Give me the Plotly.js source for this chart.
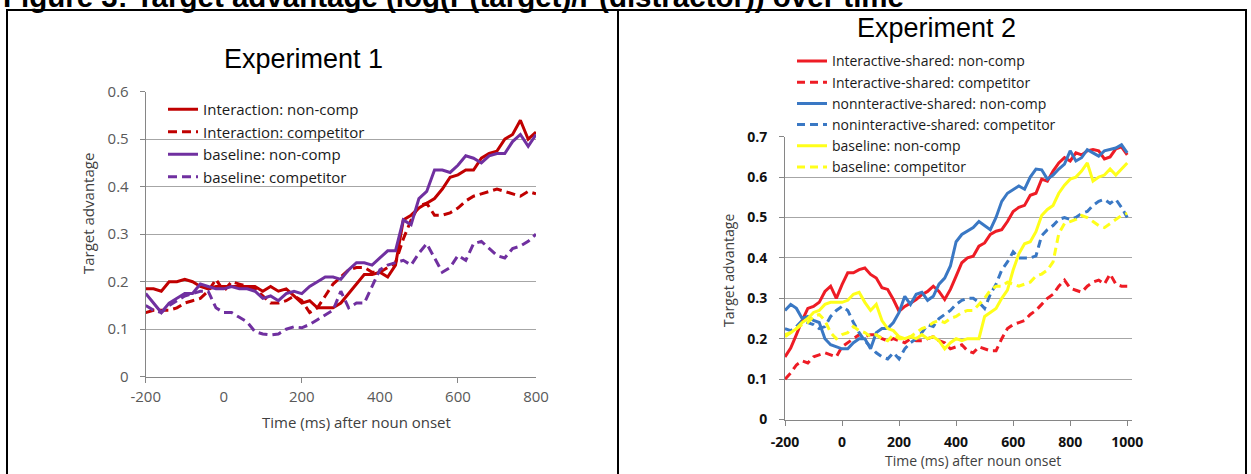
<!DOCTYPE html>
<html><head><meta charset="utf-8">
<script src="https://cdn.plot.ly/plotly-3.0.1.min.js"></script>
<style>html,body{margin:0;padding:0;background:#fff;overflow:hidden}#chart{width:1251px;height:474px}</style>
</head><body><div id="chart"></div>
<script>
// ---------- Experiment 1 data ----------
const time1 = [-200,-180,-160,-140,-120,-100,-80,-60,-40,-20,0,20,40,60,80,100,120,140,160,180,200,220,240,260,280,300,320,340,360,380,400,420,440,460,480,500,520,540,560,580,600,620,640,660,680,700,720,740,760,780,800];
const interactionNonComp = [0.185,0.185,0.18,0.2,0.2,0.205,0.2,0.19,0.185,0.19,0.19,0.19,0.19,0.19,0.19,0.18,0.19,0.18,0.185,0.17,0.155,0.16,0.145,0.145,0.145,0.155,0.175,0.195,0.215,0.215,0.22,0.21,0.235,0.33,0.34,0.355,0.365,0.375,0.395,0.42,0.425,0.435,0.435,0.46,0.47,0.475,0.5,0.51,0.54,0.5,0.515];
const interactionComp = [0.135,0.14,0.14,0.14,0.145,0.155,0.16,0.165,0.18,0.205,0.18,0.2,0.195,0.19,0.185,0.17,0.155,0.155,0.16,0.17,0.16,0.135,0.145,0.17,0.195,0.21,0.225,0.23,0.23,0.22,0.22,0.23,0.24,0.29,0.33,0.36,0.365,0.34,0.34,0.345,0.355,0.37,0.38,0.385,0.39,0.395,0.39,0.385,0.38,0.39,0.385];
const baseline1NonComp = [0.175,0.155,0.135,0.155,0.165,0.175,0.175,0.195,0.19,0.185,0.185,0.19,0.185,0.185,0.18,0.165,0.17,0.16,0.175,0.18,0.175,0.19,0.2,0.21,0.21,0.205,0.225,0.24,0.24,0.235,0.25,0.265,0.265,0.33,0.32,0.375,0.39,0.435,0.435,0.43,0.445,0.465,0.46,0.45,0.465,0.47,0.47,0.495,0.51,0.485,0.51];
const baseline1Comp = [0.15,0.14,0.135,0.15,0.16,0.17,0.175,0.18,0.18,0.145,0.135,0.135,0.125,0.115,0.095,0.09,0.088,0.09,0.1,0.105,0.103,0.11,0.12,0.13,0.14,0.18,0.145,0.155,0.155,0.19,0.225,0.235,0.24,0.245,0.235,0.26,0.28,0.25,0.22,0.23,0.255,0.245,0.28,0.285,0.27,0.255,0.25,0.27,0.275,0.285,0.3];
const xTicks1 = [-200,0,200,400,600,800];
const xTickText1 = ['-200','0','200','400','600','800'];
const xTickMarks1 = [-200,200,600];
const yTicks1 = [0,0.1,0.2,0.3,0.4,0.5,0.6];
const yTickText1 = ['0','0.1','0.2','0.3','0.4','0.5','0.6'];
const names1 = ['Interaction: non-comp','Interaction: competitor','baseline: non-comp','baseline: competitor'];

// ---------- Experiment 2 data ----------
const time2 = [-200,-180,-160,-140,-120,-100,-80,-60,-40,-20,0,20,40,60,80,100,120,140,160,180,200,220,240,260,280,300,320,340,360,380,400,420,440,460,480,500,520,540,560,580,600,620,640,660,680,700,720,740,760,780,800,820,840,860,880,900,920,940,960,980,1000];
const interactiveNonComp = [0.155,0.177,0.21,0.245,0.275,0.28,0.29,0.317,0.33,0.3,0.334,0.363,0.363,0.371,0.375,0.359,0.35,0.326,0.322,0.297,0.268,0.28,0.288,0.297,0.309,0.317,0.33,0.317,0.297,0.322,0.355,0.388,0.4,0.404,0.429,0.437,0.458,0.466,0.47,0.49,0.515,0.525,0.53,0.555,0.56,0.595,0.59,0.615,0.635,0.648,0.64,0.66,0.655,0.665,0.668,0.665,0.645,0.65,0.67,0.675,0.655];
const interactiveComp = [0.1,0.115,0.135,0.145,0.14,0.155,0.16,0.165,0.16,0.155,0.18,0.19,0.2,0.21,0.205,0.21,0.21,0.2,0.195,0.2,0.195,0.19,0.2,0.195,0.195,0.2,0.205,0.195,0.19,0.175,0.18,0.185,0.17,0.165,0.18,0.175,0.17,0.17,0.2,0.225,0.235,0.24,0.245,0.26,0.27,0.285,0.3,0.31,0.33,0.345,0.325,0.32,0.315,0.33,0.34,0.345,0.335,0.36,0.335,0.33,0.33];
const nonInteractiveNonComp = [0.27,0.285,0.275,0.25,0.255,0.245,0.24,0.2,0.185,0.18,0.175,0.175,0.19,0.2,0.2,0.175,0.215,0.225,0.225,0.24,0.265,0.305,0.285,0.31,0.315,0.295,0.305,0.335,0.35,0.38,0.44,0.458,0.466,0.475,0.49,0.48,0.47,0.5,0.54,0.56,0.57,0.578,0.57,0.6,0.62,0.618,0.595,0.605,0.62,0.632,0.665,0.64,0.648,0.668,0.66,0.652,0.665,0.668,0.672,0.68,0.66];
const nonInteractiveComp = [0.225,0.22,0.23,0.245,0.24,0.235,0.225,0.23,0.255,0.27,0.28,0.27,0.24,0.215,0.195,0.18,0.165,0.155,0.15,0.165,0.15,0.175,0.19,0.2,0.215,0.235,0.23,0.25,0.26,0.27,0.285,0.295,0.3,0.3,0.29,0.275,0.31,0.335,0.37,0.39,0.415,0.4,0.4,0.4,0.405,0.455,0.47,0.48,0.495,0.5,0.495,0.5,0.51,0.515,0.53,0.54,0.545,0.535,0.545,0.525,0.5];
const baseline2NonComp = [0.21,0.215,0.225,0.24,0.25,0.265,0.27,0.285,0.29,0.29,0.29,0.295,0.31,0.315,0.29,0.27,0.285,0.245,0.225,0.22,0.205,0.2,0.205,0.2,0.21,0.2,0.205,0.195,0.175,0.19,0.2,0.195,0.2,0.2,0.2,0.255,0.265,0.275,0.3,0.32,0.37,0.41,0.435,0.44,0.465,0.505,0.52,0.53,0.56,0.58,0.595,0.6,0.615,0.635,0.59,0.6,0.605,0.62,0.605,0.62,0.635];
const baseline2Comp = [0.205,0.215,0.225,0.235,0.24,0.255,0.26,0.245,0.215,0.2,0.21,0.215,0.23,0.22,0.215,0.205,0.21,0.2,0.195,0.21,0.2,0.2,0.205,0.215,0.225,0.23,0.24,0.245,0.24,0.25,0.255,0.265,0.27,0.27,0.285,0.3,0.32,0.33,0.33,0.34,0.335,0.33,0.335,0.34,0.355,0.36,0.37,0.39,0.46,0.485,0.49,0.495,0.505,0.5,0.49,0.48,0.475,0.485,0.495,0.505,0.51];
const xTicks2 = [-200,0,200,400,600,800,1000];
const xTickText2 = ['-200','0','200','400','600','800','1000'];
const yTicks2 = [0,0.1,0.2,0.3,0.4,0.5,0.6,0.7];
const yTickText2 = ['0','0.1','0.2','0.3','0.4','0.5','0.6','0.7'];
const names2 = ['Interactive-shared: non-comp','Interactive-shared: competitor','nonnteractive-shared: non-comp','noninteractive-shared: competitor','baseline: non-comp','baseline: competitor'];

// ---------- texts ----------
const figTitle = 'Figure 3: Target advantage (log(P(target)/P(distractor)) over time';
const title1 = 'Experiment 1', title2 = 'Experiment 2';
const xTitle = 'Time (ms) after noun onset', yTitle = 'Target advantage';

// ---------- layout helpers (pixel -> paper) ----------
const W = 1251, H = 474;
const px = x => x / W, py = y => 1 - y / H;
const SANS = 'Open Sans, Noto Sans, sans-serif';
const ARIAL = 'Liberation Sans, Arial, sans-serif';

const RED1 = '#C00000', PURPLE = '#7030A0';
const RED2 = '#EE1C25', BLUE = '#3A78C4', YELLOW = '#FFFF1A';

function tr(x, y, name, color, dash, xa, ya, leg, w) {
  return {x: x, y: y, name: name, type: 'scatter', mode: 'lines', xaxis: xa, yaxis: ya, legend: leg,
          line: {color: color, width: w, dash: dash}, hoverinfo: 'skip'};
}
const D1 = '9px,5px', D2 = '8px,5px';
const data = [
  tr(time1, interactionNonComp, names1[0], RED1, 'solid', 'x', 'y', 'legend', 3),
  tr(time1, interactionComp, names1[1], RED1, D1, 'x', 'y', 'legend', 3),
  tr(time1, baseline1NonComp, names1[2], PURPLE, 'solid', 'x', 'y', 'legend', 3),
  tr(time1, baseline1Comp, names1[3], PURPLE, D1, 'x', 'y', 'legend', 3),
  tr(time2, interactiveNonComp, names2[0], RED2, 'solid', 'x2', 'y2', 'legend2', 3),
  tr(time2, interactiveComp, names2[1], RED2, D2, 'x2', 'y2', 'legend2', 3),
  tr(time2, nonInteractiveNonComp, names2[2], BLUE, 'solid', 'x2', 'y2', 'legend2', 3),
  tr(time2, nonInteractiveComp, names2[3], BLUE, D2, 'x2', 'y2', 'legend2', 3),
  tr(time2, baseline2NonComp, names2[4], YELLOW, 'solid', 'x2', 'y2', 'legend2', 3),
  tr(time2, baseline2Comp, names2[5], YELLOW, D2, 'x2', 'y2', 'legend2', 3),
  {x: [], y: [], xaxis: 'x3', yaxis: 'y', type: 'scatter', mode: 'lines', showlegend: false, hoverinfo: 'skip'}
];

const AX = '#868686', GRID = '#a6a6a6';
const tick1 = {family: SANS, size: 15, color: '#595959'};
const tick2 = {family: SANS, size: 14, color: '#111111', weight: 700};

const layout = {
  width: W, height: H, margin: {l: 0, r: 0, t: 0, b: 0},
  paper_bgcolor: '#ffffff', plot_bgcolor: 'rgba(0,0,0,0)', showlegend: true,
  xaxis: {domain: [px(145.7), px(536)], range: [-200, 800], anchor: 'y', tickmode: 'array', tickvals: xTicks1,
          ticktext: xTickText1, ticks: '', showline: true, linecolor: AX, linewidth: 1, showgrid: false, zeroline: false,
          tickfont: tick1, ticklabelstandoff: 6, fixedrange: true},
  xaxis3: {domain: [px(145.7), px(536)], range: [-200, 800], anchor: 'y', overlaying: 'x', tickmode: 'array',
           tickvals: xTickMarks1, ticks: 'outside', ticklen: 5, tickcolor: AX, showticklabels: false,
           showline: false, showgrid: false, zeroline: false},
  yaxis: {domain: [py(376.7), py(91.7)], range: [0, 0.6], anchor: 'x', tickmode: 'array', tickvals: yTicks1,
          ticktext: yTickText1, ticks: 'outside', ticklen: 5, tickcolor: AX, showline: true, linecolor: AX,
          showgrid: true, gridcolor: GRID, gridwidth: 1, zeroline: false, tickfont: tick1, ticklabelstandoff: 8},
  xaxis2: {domain: [px(785), px(1131.5)], range: [-200, 1015], anchor: 'y2', tickmode: 'array', tickvals: xTicks2,
           ticktext: xTickText2, ticks: 'outside', ticklen: 5, tickcolor: AX, showline: true, linecolor: AX, showgrid: false,
           zeroline: false, tickfont: tick2, ticklabelstandoff: 5},
  yaxis2: {domain: [py(419.5), py(136.7)], range: [0, 0.7], anchor: 'x2', tickmode: 'array', tickvals: yTicks2,
           ticktext: yTickText2, ticks: 'outside', ticklen: 5, tickcolor: AX, showline: true, linecolor: AX,
           showgrid: true, gridcolor: GRID, gridwidth: 1, zeroline: false, tickfont: tick2, ticklabelstandoff: 9},
  legend: {x: px(163), y: py(93), xanchor: 'left', yanchor: 'top', bgcolor: 'rgba(0,0,0,0)', borderwidth: 0,
           font: {family: SANS, size: 15, color: '#1a1a1a'}, traceorder: 'normal'},
  legend2: {x: px(792), y: py(45.4), xanchor: 'left', yanchor: 'top', bgcolor: 'rgba(0,0,0,0)', borderwidth: 0,
            font: {family: SANS, size: 14, color: '#1a1a1a'}, traceorder: 'normal'},
  annotations: [
    {text: figTitle, xref: 'paper', yref: 'paper', x: px(1), y: py(-3.3), xanchor: 'left', yanchor: 'middle',
     showarrow: false, font: {family: ARIAL, size: 29.5, color: '#000', weight: 700}},
    {text: title1, xref: 'paper', yref: 'paper', x: px(303), y: py(59.5), xanchor: 'center', yanchor: 'middle',
     showarrow: false, font: {family: ARIAL, size: 27, color: '#000'}},
    {text: title2, xref: 'paper', yref: 'paper', x: px(936), y: py(27.5), xanchor: 'center', yanchor: 'middle',
     showarrow: false, font: {family: ARIAL, size: 27, color: '#000'}},
    {text: xTitle, xref: 'paper', yref: 'paper', x: px(356), y: py(421.7), xanchor: 'center', yanchor: 'middle',
     showarrow: false, font: {family: SANS, size: 15, color: '#404040'}},
    {text: yTitle, xref: 'paper', yref: 'paper', x: px(88), y: py(214), xanchor: 'center', yanchor: 'middle',
     textangle: -90, showarrow: false, font: {family: SANS, size: 15, color: '#404040'}},
    {text: xTitle, xref: 'paper', yref: 'paper', x: px(972.5), y: py(460), xanchor: 'center', yanchor: 'middle',
     showarrow: false, font: {family: SANS, size: 14, color: '#404040'}},
    {text: yTitle, xref: 'paper', yref: 'paper', x: px(728), y: py(271), xanchor: 'center', yanchor: 'middle',
     textangle: -90, showarrow: false, font: {family: SANS, size: 14, color: '#404040'}}
  ],
  shapes: [
    {type: 'line', xref: 'paper', yref: 'paper', x0: px(6), x1: px(1247), y0: py(10), y1: py(10), line: {color: '#000', width: 2}},
    {type: 'line', xref: 'paper', yref: 'paper', x0: px(7), x1: px(7), y0: py(10), y1: py(474), line: {color: '#000', width: 2}},
    {type: 'line', xref: 'paper', yref: 'paper', x0: px(618), x1: px(618), y0: py(10), y1: py(474), line: {color: '#000', width: 2}},
    {type: 'line', xref: 'paper', yref: 'paper', x0: px(1246), x1: px(1246), y0: py(10), y1: py(474), line: {color: '#000', width: 2}}
  ]
};

Plotly.newPlot('chart', data, layout, {staticPlot: true, displayModeBar: false});
</script>
</body></html>
